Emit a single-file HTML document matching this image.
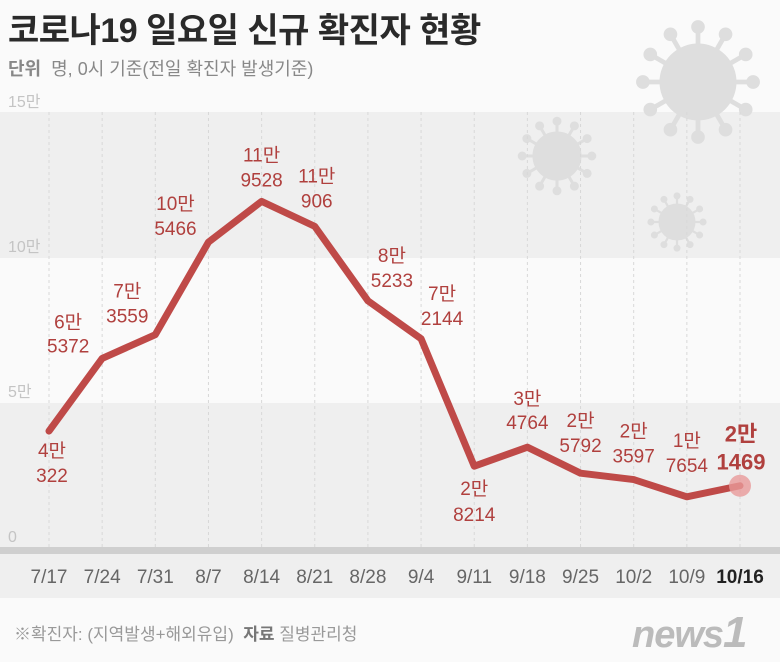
<!DOCTYPE html>
<html><head><meta charset="utf-8"><style>
body{margin:0;width:780px;height:662px;overflow:hidden;background:#fafafa;font-family:"Liberation Sans","Noto Sans CJK KR",sans-serif}
#wrap{position:relative;width:780px;height:662px}
.t{position:absolute;white-space:nowrap}
</style></head><body>
<div id="wrap">
<svg id="chart" width="780" height="662" style="position:absolute;left:0;top:0">
<rect x="0" y="0" width="780" height="662" fill="#fafafa"/>
<rect x="0" y="112" width="780" height="146" fill="#efefef"/>
<rect x="0" y="258" width="780" height="145" fill="#fafafa"/>
<rect x="0" y="403" width="780" height="145" fill="#efefef"/>
<rect x="0" y="547" width="780" height="7" fill="#cfcfcf"/>
<rect x="0" y="554" width="780" height="44" fill="#efefef"/>
<g id="virus" fill="#dedede" stroke="#dedede"></g>
<g id="grid"></g><g id="yt"></g><g id="line"></g><g id="labels"></g><g id="xt"></g>
</svg>
<div class="t" style="left:8px;top:3px;font-size:34px;font-weight:bold;color:#2a2a2a;letter-spacing:-0.5px">코로나19 일요일 신규 확진자 현황</div>
<div class="t" style="left:8px;top:55px;font-size:18px;color:#888"><b>단위</b>&nbsp; 명, 0시 기준(전일 확진자 발생기준)</div>
<div class="t" style="left:14px;top:620px;font-size:17px;color:#999">※확진자: (지역발생+해외유입) &nbsp;<b style="color:#777">자료</b> 질병관리청</div>
<div class="t" style="left:632px;top:608px;font-size:38px;font-weight:bold;font-style:italic;color:#bbb;letter-spacing:-1px">news<span style="font-size:44px">1</span></div>
</div>
<script>
const categories=["7/17","7/24","7/31","8/7","8/14","8/21","8/28","9/4","9/11","9/18","9/25","10/2","10/9","10/16"];
const values=[40322,65372,73559,105466,119528,110906,85233,72144,28214,34764,25792,23597,17654,21469];
const yTicks=[0,50000,100000,150000];
const yTickLabels=["0","5만","10만","15만"];
// label layout offsets (pixels, relative to point): dx, line1 center dy, line2 center dy
const labelDx=[3,-34,-28,-33,0,2,24,21,0,0,0,0,0,1];
const labelDy1=[19,-37,-44,-39,-47,-51,-46,-46,22,-49,-53,-49,-57,-52];
const labelDy2=[44,-13,-19,-14,-22,-26,-21,-21,48,-25,-28,-24,-32,-24];
const NS="http://www.w3.org/2000/svg";
const x=i=>49+i*(691/(categories.length-1));
const y=v=>548-v*(435/150000);
function mk(tag,attrs,parent){const e=document.createElementNS(NS,tag);for(const k in attrs)e.setAttribute(k,attrs[k]);document.getElementById(parent).appendChild(e);return e;}
[[698,82,38],[557,156,24],[677,222,18]].forEach(([cx,cy,r])=>{
 const g=document.getElementById('virus');
 for(let a=0;a<12;a++){const t=a*Math.PI/6;const l=document.createElementNS(NS,'line');
  l.setAttribute('x1',cx);l.setAttribute('y1',cy);l.setAttribute('x2',cx+Math.cos(t)*r*1.45);l.setAttribute('y2',cy+Math.sin(t)*r*1.45);l.setAttribute('stroke-width',r/8);g.appendChild(l);
  const c=document.createElementNS(NS,'circle');c.setAttribute('cx',cx+Math.cos(t)*r*1.45);c.setAttribute('cy',cy+Math.sin(t)*r*1.45);c.setAttribute('r',r/6);g.appendChild(c);}
 const c=document.createElementNS(NS,'circle');c.setAttribute('cx',cx);c.setAttribute('cy',cy);c.setAttribute('r',r);g.appendChild(c);
});
yTicks.forEach((v,i)=>{
 const t=mk('text',{x:8,y:y(v)-6,'font-size':16,fill:'#c4c4c4'},'yt');t.textContent=yTickLabels[i];
 
 
});
categories.forEach((c,i)=>{
 const g=mk('line',{x1:x(i),x2:x(i),y1:112,y2:547,stroke:'#d8d8d8','stroke-dasharray':'3,3'},'grid');
 
 
 const last=i===categories.length-1;
 const t=mk('text',{x:x(i),y:583,'text-anchor':'middle','font-size':19,fill:last?'#222':'#666','font-weight':last?'bold':'normal'},'xt');
 t.textContent=c;
 
 
});
const pl=mk('polyline',{points:values.map((v,i)=>x(i)+','+y(v)).join(' '),fill:'none',stroke:'#bf4a48','stroke-width':7,'stroke-linejoin':'round','stroke-linecap':'round'},'line');


const li=values.length-1;
const m1=mk('circle',{cx:x(li),cy:y(values[li]),r:11,fill:'#e89a9a',opacity:0.8},'line');


values.forEach((v,i)=>{
 const man=Math.floor(v/10000), rest=v%10000;
 const last=i===li;
 const fs=last?22:19, base=last?8:7;
 const px=x(i)+labelDx[i], py=y(v);
 const a=mk('text',{x:px,y:py+labelDy1[i]+base,'text-anchor':'middle','font-size':fs,fill:'#b0403e','font-weight':last?'bold':'normal'},'labels');
 a.textContent=man+'만';
 
 
 const b=mk('text',{x:px,y:py+labelDy2[i]+base,'text-anchor':'middle','font-size':fs,fill:'#b0403e','font-weight':last?'bold':'normal'},'labels');
 b.textContent=String(rest);
 
 
});
</script>
</body></html>
